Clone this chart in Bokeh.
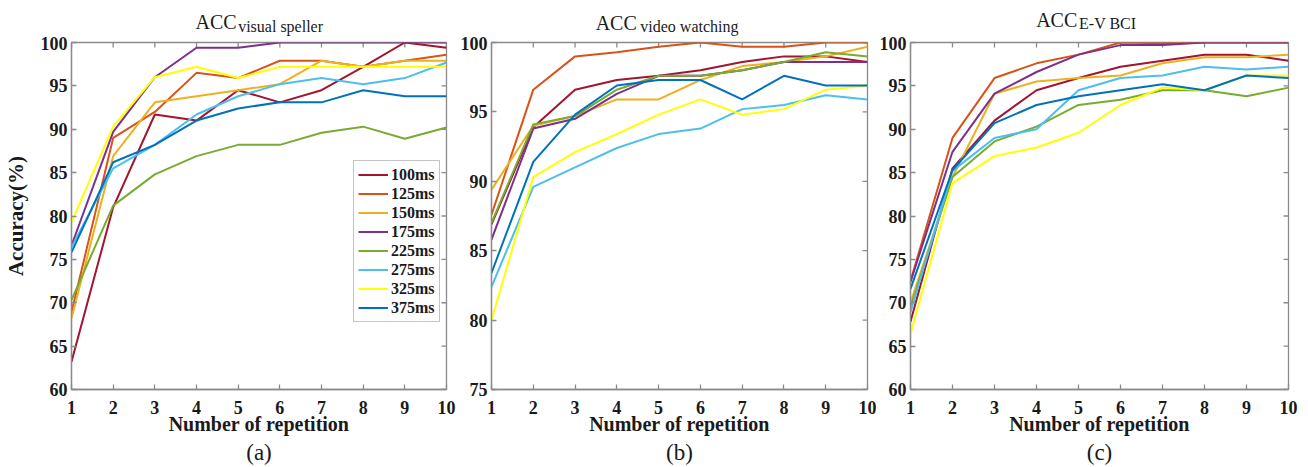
import math

from bokeh.plotting import figure
from bokeh.layouts import row, column
from bokeh.models import Range1d, FixedTicker, Legend, LegendItem, Title
from bokeh.core.properties import value
from bokeh.embed import file_html
from bokeh.resources import INLINE

# Repetition counts on the x axis
repetitions = [1, 2, 3, 4, 5, 6, 7, 8, 9, 10]

# y tick labels for the two kinds of panel
yticks_wide = [60, 65, 70, 75, 80, 85, 90, 95, 100]
yticks_narrow = [75, 80, 85, 90, 95, 100]

# Stimulus durations (legend labels)
durations = ["100ms", "125ms", "150ms", "175ms", "225ms", "275ms", "325ms", "375ms"]
colors = ["#A2142F", "#D95319", "#EDB120", "#7E2F8E", "#77AC30", "#4DBEEE", "#FFFF00", "#0072BD"]

# (a) visual speller accuracy (%)
speller_100 = [63.2, 81.0, 91.7, 91.0, 94.5, 93.1, 94.5, 97.2, 100.0, 99.4]
speller_125 = [68.9, 89.0, 92.0, 96.5, 95.9, 97.9, 97.9, 97.2, 97.9, 98.6]
speller_150 = [68.2, 86.9, 93.1, 93.8, 94.5, 95.2, 97.9, 97.2, 97.9, 97.9]
speller_175 = [76.6, 89.7, 96.0, 99.4, 99.4, 100.0, 100.0, 100.0, 100.0, 100.0]
speller_225 = [70.3, 81.2, 84.8, 86.9, 88.2, 88.2, 89.6, 90.3, 88.9, 90.2]
speller_275 = [76.4, 85.5, 88.2, 91.7, 93.8, 95.2, 95.9, 95.2, 95.9, 97.7]
speller_325 = [79.3, 90.3, 96.0, 97.2, 95.9, 97.2, 97.2, 97.2, 97.2, 97.2]
speller_375 = [75.8, 86.2, 88.2, 91.0, 92.4, 93.1, 93.1, 94.5, 93.8, 93.8]

# (b) video watching accuracy (%)
video_100 = [86.9, 93.9, 96.6, 97.3, 97.6, 98.0, 98.6, 99.0, 99.0, 98.6]
video_125 = [87.6, 96.6, 99.0, 99.3, 99.7, 100.0, 99.7, 99.7, 100.0, 100.0]
video_150 = [89.4, 94.0, 94.7, 95.9, 95.9, 97.3, 98.3, 98.6, 99.0, 99.7]
video_175 = [85.8, 93.8, 94.5, 96.3, 97.6, 97.6, 98.0, 98.6, 98.6, 98.6]
video_225 = [87.0, 94.1, 94.7, 96.6, 97.6, 97.6, 98.0, 98.6, 99.3, 99.0]
video_275 = [82.4, 89.6, 91.0, 92.4, 93.4, 93.8, 95.2, 95.5, 96.2, 95.9]
video_325 = [80.0, 90.3, 92.1, 93.4, 94.8, 95.9, 94.8, 95.2, 96.6, 96.9]
video_375 = [83.4, 91.4, 94.8, 96.9, 97.3, 97.3, 95.9, 97.6, 96.9, 96.9]

# (c) E-V BCI accuracy (%)
ev_100 = [67.8, 85.5, 91.0, 94.5, 95.9, 97.2, 97.9, 98.6, 98.6, 97.9]
ev_125 = [72.5, 89.0, 95.9, 97.6, 98.6, 100.0, 99.9, 100.0, 100.0, 100.0]
ev_150 = [70.0, 84.5, 94.1, 95.5, 95.9, 96.2, 97.6, 98.3, 98.3, 98.6]
ev_175 = [72.4, 87.4, 94.1, 96.6, 98.6, 99.7, 99.7, 100.0, 100.0, 100.0]
ev_225 = [69.5, 84.5, 88.6, 90.3, 92.8, 93.4, 94.5, 94.5, 93.8, 94.8]
ev_275 = [68.9, 85.2, 89.0, 90.0, 94.5, 95.9, 96.2, 97.2, 96.9, 97.2]
ev_325 = [66.4, 83.8, 86.9, 87.9, 89.6, 92.8, 94.8, 94.5, 96.2, 96.2]
ev_375 = [71.6, 85.3, 90.7, 92.8, 93.8, 94.5, 95.2, 94.5, 96.2, 95.9]

speller = [speller_100, speller_125, speller_150, speller_175, speller_225, speller_275, speller_325, speller_375]
video = [video_100, video_125, video_150, video_175, video_225, video_275, video_325, video_375]
ev_bci = [ev_100, ev_125, ev_150, ev_175, ev_225, ev_275, ev_325, ev_375]

SERIF = "Liberation Serif"
AXIS_GRAY = "#8a8a8a"
TEXT_DARK = "#1a1a1a"
HEADER_H = 36
FRAME_TOP = 42


def style_axis(ax):
    ax.axis_line_color = AXIS_GRAY
    ax.axis_line_width = 1.3
    ax.major_tick_line_color = AXIS_GRAY
    ax.major_tick_line_width = 1.3
    ax.major_tick_in = 5
    ax.major_tick_out = 0
    ax.minor_tick_line_color = None
    ax.major_label_text_font = SERIF
    ax.major_label_text_font_style = "bold"
    ax.major_label_text_color = TEXT_DARK
    ax.major_label_text_font_size = "18px"
    ax.major_label_standoff = 4
    ax.axis_label_text_font = SERIF
    ax.axis_label_text_font_style = "bold"
    ax.axis_label_text_color = TEXT_DARK
    ax.axis_label_text_font_size = "20px"


def make_header(width, left, right, main_text, main_x, main_y, sub_text, sub_x, sub_y):
    """Panel heading 'ACC' with a subscript; x in pixels from the panel's frame left edge."""
    frame_w = width - left - right
    h = figure(width=width, height=HEADER_H, output_backend="svg", toolbar_location=None,
               title=None,
               x_range=Range1d(0, frame_w), y_range=Range1d(HEADER_H, 0),
               x_axis_type=None, y_axis_type=None,
               min_border_left=left, min_border_right=right,
               min_border_top=0, min_border_bottom=0)
    h.outline_line_color = None
    h.grid.visible = False
    h.text(x=[main_x], y=[main_y], text=[main_text], text_align=value("left"),
           text_baseline=value("alphabetic"), text_font=value(SERIF),
           text_font_size=value("20px"), text_color=TEXT_DARK)
    h.text(x=[sub_x], y=[sub_y], text=[sub_text], text_align=value("left"),
           text_baseline=value("alphabetic"), text_font=value(SERIF),
           text_font_size=value("16px"), text_color=TEXT_DARK)
    return h


def make_panel(series, yticks, width, left, right, letter, ylabel=None):
    ymin, ymax = yticks[0], yticks[-1]
    p = figure(width=width, height=467 - HEADER_H, output_backend="svg", toolbar_location=None,
               x_range=Range1d(repetitions[0], repetitions[-1]), y_range=Range1d(ymin, ymax),
               min_border_left=left, min_border_right=right,
               min_border_top=FRAME_TOP - HEADER_H, min_border_bottom=78,
               x_axis_label="Number of repetition", y_axis_label=ylabel)
    p.outline_line_color = AXIS_GRAY
    p.outline_line_width = 1.3
    p.grid.visible = False
    p.background_fill_color = "white"
    p.border_fill_color = "white"

    p.xaxis.ticker = FixedTicker(ticks=repetitions)
    p.yaxis.ticker = FixedTicker(ticks=yticks)
    for ax in p.xaxis:
        style_axis(ax)
        ax.major_label_standoff = 11
        ax.axis_label_standoff = -4
    for ax in p.yaxis:
        style_axis(ax)
        ax.axis_label_text_font_size = "21px"
        ax.axis_label_standoff = 10

    # inward tick marks along the top and right edges of the box
    p.scatter(repetitions, [ymax] * len(repetitions), marker="dash", angle=math.pi / 2,
              size=10, line_color=AXIS_GRAY, line_width=1.3)
    p.scatter([repetitions[-1]] * len(yticks), yticks, marker="dash",
              size=10, line_color=AXIS_GRAY, line_width=1.3)

    renderers = []
    for vals, col in zip(series, colors):
        renderers.append(p.line(repetitions, vals, line_color=col, line_width=2))

    p.add_layout(Title(text=letter, align="center", text_font=SERIF,
                       text_font_size="23px", text_font_style="normal",
                       text_color=TEXT_DARK, standoff=0), "below")
    return p, renderers


# widths and side borders of the three panels
WA, LA, RA_ = 457, 68, 11
WB, LB, RB = 419, 31, 9
WC, LC, RC = 432, 33, 20

pa, ra = make_panel(speller, yticks_wide, WA, LA, RA_, "(a)", ylabel="Accuracy(%)")
pb, _ = make_panel(video, yticks_narrow, WB, LB, RB, "(b)")
pc, _ = make_panel(ev_bci, yticks_wide, WC, LC, RC, "(c)")

ha = make_header(WA, LA, RA_, "ACC", 125, 21, "visual  speller", 168, 25.5)
hb = make_header(WB, LB, RB, "ACC", 105, 22, "video watching", 150, 25.5)
hc = make_header(WC, LC, RC, "ACC", 126, 19, "E-V BCI", 169, 22.5)

legend = Legend(items=[LegendItem(label=d, renderers=[r]) for d, r in zip(durations, ra)],
                location=(282, 67))
legend.label_text_font = SERIF
legend.label_text_font_style = "bold"
legend.label_text_font_size = "16px"
legend.label_text_color = TEXT_DARK
legend.label_height = 19
legend.glyph_height = 19
legend.glyph_width = 30
legend.label_standoff = 3
legend.spacing = 0
legend.padding = 4
legend.margin = 0
legend.border_line_color = AXIS_GRAY
legend.border_line_width = 1.3
legend.background_fill_alpha = 1
pa.add_layout(legend, "center")

layout = row(column(ha, pa, spacing=0), column(hb, pb, spacing=0),
             column(hc, pc, spacing=0), spacing=0)

with open("out.html", "w") as f:
    f.write(file_html(layout, INLINE))
